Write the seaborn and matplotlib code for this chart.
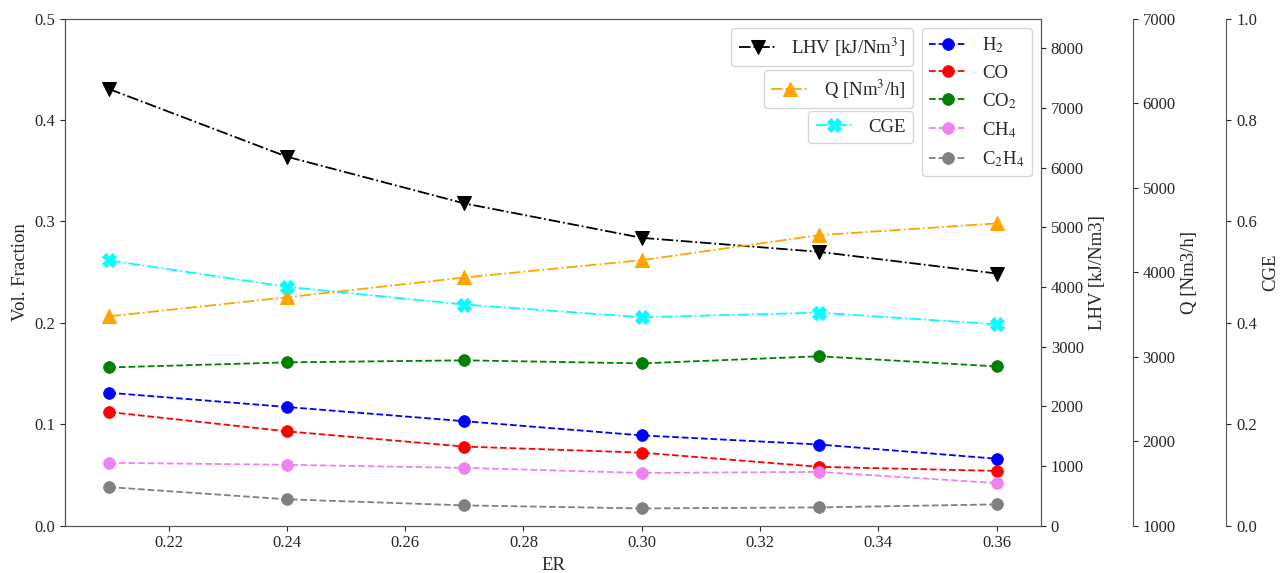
import matplotlib
matplotlib.use("Agg")
import matplotlib.pyplot as plt
import seaborn as sns

# ---- data ----
er = [0.21, 0.24, 0.27, 0.30, 0.33, 0.36]
h2 = [0.131, 0.117, 0.103, 0.089, 0.080, 0.066]
co = [0.112, 0.093, 0.078, 0.072, 0.058, 0.054]
co2 = [0.156, 0.161, 0.163, 0.160, 0.167, 0.157]
ch4 = [0.062, 0.060, 0.057, 0.052, 0.053, 0.042]
c2h4 = [0.038, 0.026, 0.020, 0.017, 0.018, 0.021]
lhv = [7316, 6184, 5401, 4824, 4589, 4226]
q = [3477, 3702, 3936, 4141, 4437, 4576]
cge = [0.523, 0.471, 0.436, 0.411, 0.420, 0.397]

gas_series = [h2, co, co2, ch4, c2h4]
gas_labels = ["H$_2$", "CO", "CO$_2$", "CH$_4$", "C$_2$H$_4$"]
gas_colors = ["blue", "red", "green", "violet", "gray"]

sns.set_style("ticks")
plt.rcParams["font.family"] = ["Liberation Serif", "DejaVu Serif"]
plt.rcParams["mathtext.fontset"] = "stix"
plt.rcParams["font.size"] = 12
plt.rcParams["xtick.major.size"] = 3.5
plt.rcParams["ytick.major.size"] = 3.5
plt.rcParams["xtick.labelsize"] = 12
plt.rcParams["ytick.labelsize"] = 12
plt.rcParams["axes.labelsize"] = 13.5
plt.rcParams["legend.fontsize"] = 13.5

fig, ax = plt.subplots(figsize=(12.83, 5.73), dpi=100)
fig.subplots_adjust(left=0.0507, right=0.8114, bottom=0.0826, top=0.9677)

for ys, lab, col in zip(gas_series, gas_labels, gas_colors):
    sns.lineplot(x=er, y=ys, ax=ax, color=col, marker="o", linestyle="--",
                 markersize=8.5, markeredgecolor=col, markeredgewidth=0.5,
                 label=lab, linewidth=1.3)

ax.set_ylim(0, 0.5)
ax.set_xlim(0.2025, 0.3675)
ax.set_xticks([0.22, 0.24, 0.26, 0.28, 0.30, 0.32, 0.34, 0.36])
ax.set_yticks([0.0, 0.1, 0.2, 0.3, 0.4, 0.5])
ax.set_xlabel("ER")
ax.set_ylabel("Vol. Fraction")

ax2 = ax.twinx()
ax3 = ax.twinx()
ax4 = ax.twinx()
ax3.spines["right"].set_position(("axes", 1.094))
ax4.spines["right"].set_position(("axes", 1.19))

sns.lineplot(x=er, y=lhv, ax=ax2, color="black", marker="v", linestyle="-.",
             markersize=9.5, markeredgecolor="black", label="LHV [kJ/Nm$^3$]",
             linewidth=1.3)
sns.lineplot(x=er, y=q, ax=ax3, color="orange", marker="^", linestyle="-.",
             markersize=9.5, markeredgecolor="orange", label="Q [Nm$^3$/h]",
             linewidth=1.3)
sns.lineplot(x=er, y=cge, ax=ax4, color="cyan", marker="X", linestyle="-.",
             markersize=9.5, markeredgecolor="cyan", label="CGE",
             linewidth=1.3)

ax2.set_ylim(0, 8500)
ax2.set_yticks(range(0, 8001, 1000))
ax2.set_ylabel("LHV [kJ/Nm3]")
ax3.set_ylim(1000, 7000)
ax3.set_yticks(range(1000, 7001, 1000))
ax3.set_ylabel("Q [Nm3/h]")
ax4.set_ylim(0, 1.0)
ax4.set_yticks([0.0, 0.2, 0.4, 0.6, 0.8, 1.0])
ax4.set_ylabel("CGE")

for a in (ax, ax2, ax3, ax4):
    for s in a.spines.values():
        s.set_color("#555555")
ax.spines["left"].set_color("black")
for a in (ax3, ax4):
    a.spines["top"].set_visible(False)
    a.spines["left"].set_visible(False)
    a.spines["bottom"].set_visible(False)

# legends
h, l = ax.get_legend_handles_labels()
ax.legend(h, l, loc="upper right")

xr = 913 / 1283
for a, ytop in ((ax2, 28), (ax3, 70), (ax4, 111)):
    hh, ll = a.get_legend_handles_labels()
    a.legend(hh, ll, loc="upper right", bbox_to_anchor=(xr, 1 - ytop / 573),
             bbox_transform=fig.transFigure, borderaxespad=0)

fig.savefig("out.png", dpi=100)
